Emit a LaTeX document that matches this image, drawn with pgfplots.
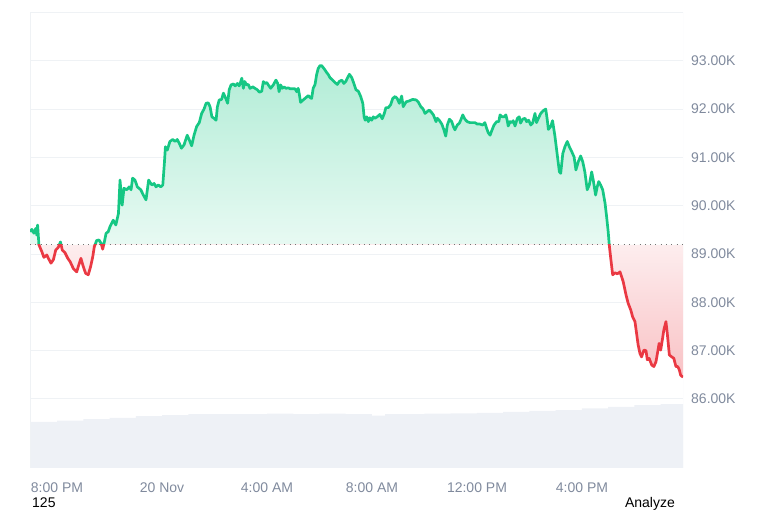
\documentclass[border=0pt]{standalone}
\usepackage{fontspec}
\setmainfont{Liberation Sans}
\usepackage{pgfplots}
\usepackage{pgfplotstable}
\pgfplotsset{compat=1.18}

\definecolor{cmcgreen}{HTML}{16C784}
\definecolor{cmcred}{HTML}{EA3943}
\definecolor{gridc}{HTML}{EFF2F5}
\definecolor{tickc}{HTML}{808A9D}
\definecolor{volc}{HTML}{EEF1F6}
\colorlet{gT}{cmcgreen!33!white}
\colorlet{gL}{cmcgreen!10!white}
\colorlet{rB}{cmcred!31!white}
\colorlet{rL}{cmcred!9!white}

% fill is shaded over the bbox 86.45..92.90; the 89.19 level sits at 46.2bp
\pgfdeclareverticalshading{gfade}{100bp}{color(0bp)=(gL); color(46.2bp)=(gL); color(75bp)=(gT); color(100bp)=(gT)}
\pgfdeclareverticalshading{rfade}{100bp}{color(0bp)=(rB); color(25bp)=(rB); color(46.2bp)=(rL); color(100bp)=(rL)}

\pgfplotsset{
  frame/.style={
    at={(0,0)}, anchor=south west,
    scale only axis, width=653pt, height=456pt,
    xmin=18.97, xmax=43.85,
  },
  pframe/.style={frame, ymin=84.57, ymax=94.01, hide axis},
}

% price in thousands USD, x in hours from 19 Nov 00:00
\pgfplotstableread{
h p
18.97 89.46
19.04 89.51
19.12 89.43
19.19 89.53
19.23 89.39
19.26 89.60
19.31 89.19
19.42 89.05
19.50 88.93
19.61 88.98
19.67 88.91
19.77 88.81
19.86 88.88
19.95 89.08
20.05 89.14
20.13 89.25
20.20 89.08
20.30 89.03
20.41 88.91
20.50 88.84
20.62 88.70
20.75 88.63
20.81 88.74
20.91 88.91
21.00 88.74
21.09 88.60
21.19 88.57
21.28 88.74
21.36 88.94
21.42 89.15
21.51 89.28
21.60 89.29
21.68 89.22
21.74 89.10
21.81 89.27
21.87 89.43
21.95 89.46
22.02 89.57
22.14 89.70
22.24 89.60
22.34 89.84
22.40 90.53
22.48 90.01
22.55 90.36
22.66 90.33
22.75 90.39
22.82 90.33
22.88 90.57
22.97 90.53
23.06 90.39
23.19 90.33
23.29 90.22
23.39 90.12
23.49 90.53
23.61 90.43
23.70 90.46
23.77 90.39
23.86 90.43
23.95 90.39
24.03 90.43
24.09 90.88
24.13 91.22
24.20 91.15
24.30 91.33
24.41 91.37
24.50 91.33
24.58 91.37
24.66 91.29
24.74 91.19
24.84 91.26
24.96 91.46
25.04 91.36
25.13 91.24
25.22 91.46
25.32 91.64
25.42 91.72
25.51 91.91
25.60 92.00
25.68 92.12
25.76 92.13
25.83 92.05
25.90 91.84
25.98 91.81
26.06 91.77
26.11 92.05
26.18 92.19
26.27 92.20
26.34 92.33
26.43 92.22
26.50 92.12
26.56 92.40
26.63 92.50
26.72 92.52
26.79 92.48
26.87 92.53
26.94 92.48
27.00 92.57
27.04 92.64
27.10 92.43
27.15 92.57
27.23 92.50
27.29 92.51
27.35 92.43
27.46 92.46
27.54 92.43
27.63 92.40
27.71 92.35
27.80 92.37
27.86 92.57
27.92 92.53
27.99 92.55
28.05 92.50
28.14 92.43
28.24 92.50
28.34 92.60
28.41 92.53
28.46 92.36
28.52 92.50
28.58 92.43
28.65 92.46
28.72 92.43
28.81 92.44
28.88 92.42
28.98 92.42
29.07 92.42
29.13 92.36
29.19 92.43
29.23 92.31
29.28 92.14
29.38 92.19
29.49 92.24
29.57 92.28
29.64 92.24
29.70 92.22
29.76 92.43
29.83 92.51
29.89 92.71
29.95 92.84
30.02 92.90
30.08 92.90
30.14 92.86
30.21 92.81
30.27 92.76
30.34 92.71
30.40 92.65
30.50 92.60
30.59 92.55
30.68 92.51
30.75 92.57
30.85 92.60
30.93 92.53
31.01 92.58
31.06 92.64
31.14 92.72
31.23 92.65
31.31 92.53
31.39 92.40
31.48 92.37
31.57 92.26
31.65 92.12
31.70 91.84
31.74 91.77
31.80 91.84
31.86 91.74
31.92 91.82
31.99 91.77
32.05 91.84
32.11 91.81
32.20 91.84
32.30 91.89
32.39 91.80
32.47 91.91
32.53 92.03
32.62 92.03
32.71 92.09
32.79 92.22
32.88 92.26
32.96 92.22
33.04 92.12
33.13 92.27
33.19 92.05
33.30 92.15
33.42 92.17
33.55 92.20
33.68 92.19
33.76 92.15
33.86 92.05
33.95 92.00
34.02 91.91
34.11 91.95
34.18 91.98
34.27 91.93
34.34 91.88
34.44 91.74
34.49 91.81
34.56 91.77
34.66 91.69
34.74 91.57
34.81 91.44
34.87 91.67
34.95 91.79
35.04 91.74
35.10 91.64
35.16 91.57
35.25 91.67
35.33 91.71
35.38 91.77
35.46 91.88
35.54 91.79
35.63 91.74
35.73 91.72
35.84 91.72
35.92 91.72
36.01 91.69
36.11 91.69
36.22 91.67
36.30 91.72
36.37 91.60
36.43 91.51
36.50 91.46
36.56 91.55
36.65 91.67
36.75 91.74
36.83 91.74
36.88 91.88
36.96 91.84
37.04 91.84
37.10 91.88
37.15 91.77
37.19 91.65
37.26 91.74
37.32 91.72
37.38 91.76
37.45 91.65
37.54 91.81
37.61 91.84
37.66 91.71
37.74 91.79
37.83 91.81
37.89 91.74
37.97 91.77
38.05 91.67
38.12 91.71
38.21 91.91
38.27 91.72
38.34 91.81
38.43 91.91
38.53 91.97
38.62 92.00
38.68 91.77
38.72 91.58
38.81 91.64
38.88 91.76
38.97 91.44
39.06 91.05
39.14 90.70
39.19 90.67
39.27 91.08
39.35 91.22
39.44 91.33
39.52 91.22
39.61 91.12
39.70 91.01
39.77 90.74
39.86 90.91
39.95 91.03
40.03 90.91
40.11 90.70
40.20 90.33
40.28 90.43
40.37 90.70
40.43 90.53
40.52 90.22
40.58 90.39
40.64 90.50
40.71 90.43
40.79 90.33
40.88 90.05
40.94 89.77
41.00 89.46
41.04 89.19
41.09 88.94
41.17 88.57
41.26 88.61
41.35 88.59
41.45 88.63
41.51 88.53
41.57 88.43
41.68 88.15
41.76 87.98
41.86 87.84
41.93 87.70
42.02 87.60
42.08 87.36
42.14 87.12
42.21 86.94
42.27 86.87
42.36 87.01
42.44 87.00
42.49 86.81
42.56 86.84
42.66 86.70
42.74 86.67
42.82 86.77
42.91 87.05
42.94 87.15
43.00 87.01
43.07 87.25
43.12 87.43
43.20 87.60
43.25 87.36
43.33 86.91
43.42 86.87
43.50 86.84
43.58 86.67
43.65 86.67
43.71 86.60
43.76 86.49
43.85 86.45
}\price

% trading volume, relative units
\pgfplotstableread{
h v
18.97 10.1
20.0 10.4
21.0 10.7
22.0 11.0
23.0 11.4
24.0 11.6
25.0 11.8
26.0 11.8
27.0 11.8
28.0 11.9
29.0 11.8
30.0 11.9
31.0 11.8
32.0 11.5
32.5 11.8
33.0 11.8
34.0 11.9
35.0 12.0
36.0 12.1
37.0 12.3
38.0 12.5
39.0 12.7
40.0 13.1
41.0 13.4
42.0 13.8
43.0 14.0
43.85 14.0
}\volume

\begin{document}
\begin{tikzpicture}
\path[use as bounding box] (-30pt,-42pt) rectangle (735pt,468pt);

% volume underneath
\begin{axis}[frame, ymin=0, ymax=100, hide axis]
\addplot[fill=volc, draw=none, const plot] table[x=h, y=v] {\volume} \closedcycle;
\end{axis}

\begin{axis}[
    frame, ymin=84.57, ymax=94.01,
    axis line style={draw=none},
    major tick length=0pt,
    ymajorgrids, grid style={gridc, line width=0.9pt},
    ytick={86,87,88,89,90,91,92,93},
    yticklabels={86.00K,87.00K,88.00K,89.00K,90.00K,91.00K,92.00K,93.00K},
    yticklabel pos=right,
    yticklabel style={anchor=west, inner sep=0pt, xshift=8pt},
    xtick={20,24,28,32,36,40},
    xticklabels={8:00 PM,20 Nov,4:00 AM,8:00 AM,12:00 PM,4:00 PM},
    xticklabel style={anchor=base, inner sep=0pt, yshift=-25pt},
    tick label style={font=\fontsize{14}{16}\selectfont, text=tickc},
]
\addplot[draw=none] coordinates {(18.97,89.19) (43.85,89.19)};
\draw[gridc, line width=0.9pt] (rel axis cs:0,0) -- (rel axis cs:0,1) -- (rel axis cs:1,1) -- (rel axis cs:1,0);
\coordinate (bl) at (axis cs:18.97,89.19);
\coordinate (tr) at (axis cs:43.85,94.01);
\coordinate (bb) at (axis cs:18.97,84.57);
\end{axis}

% areas between price and the 89.19K reference level
\begin{scope}
\clip ([xshift=-5pt]bl) rectangle ([xshift=5pt]tr);
\begin{axis}[pframe]
\addplot[draw=none, shade, shading=gfade] table[x=h, y=p] {\price}
    -- (axis cs:43.85,89.19) -- (axis cs:18.97,89.19) -- cycle;
\end{axis}
\end{scope}
\begin{scope}
\clip ([xshift=-5pt]bb) rectangle ([xshift=5pt]tr |- bl);
\begin{axis}[pframe]
\addplot[draw=none, shade, shading=rfade] table[x=h, y=p] {\price}
    -- (axis cs:43.85,89.19) -- (axis cs:18.97,89.19) -- cycle;
\end{axis}
\end{scope}

% dotted reference level
\begin{axis}[pframe]
\addplot[black!55, line width=1pt, dash pattern=on 1pt off 4.3pt] coordinates {(18.97,89.19) (43.85,89.19)};
\end{axis}

% price line: green above the reference level, red below it
\begin{scope}
\clip ([xshift=-5pt]bl) rectangle ([xshift=5pt]tr);
\begin{axis}[pframe]
\addplot[cmcgreen, line width=2.7pt, line join=round] table[x=h, y=p] {\price};
\end{axis}
\end{scope}
\begin{scope}
\clip ([xshift=-5pt]bb) rectangle ([xshift=5pt]tr |- bl);
\begin{axis}[pframe]
\addplot[cmcred, line width=2.7pt, line join=round] table[x=h, y=p] {\price};
\end{axis}
\end{scope}

\node[anchor=base west, inner sep=0pt, font=\fontsize{14}{16}\selectfont] at (2pt,-40pt) {125};
\node[anchor=base east, inner sep=0pt, font=\fontsize{14}{16}\selectfont] at (645pt,-40pt) {Analyze};
\end{tikzpicture}
\end{document}
